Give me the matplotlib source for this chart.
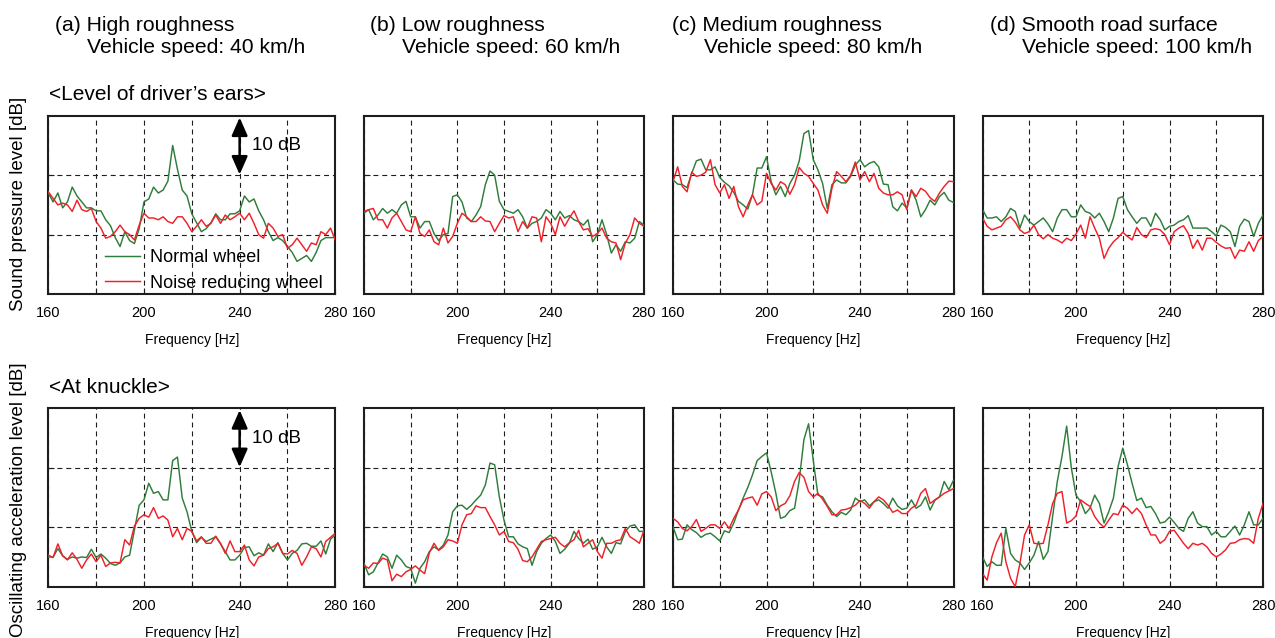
import matplotlib
matplotlib.use("Agg")
import matplotlib.pyplot as plt
from matplotlib.ticker import FixedLocator, NullFormatter
import numpy as np

plt.rcParams['font.family'] = ['Liberation Sans', 'DejaVu Sans']

# ---------------- data (dB, arbitrary reference; grid every 10 dB) ----------------
freq = np.arange(160, 281, 2)

# Sound pressure level at driver's ears
spl_a_normal = [17.0, 15.5, 17.0, 14.5, 15.5, 18.0, 16.5, 15.5, 14.5, 14.5,
                14.0, 14.0, 12.5, 11.5, 9.5, 8.0, 10.5, 9.0, 8.5, 11.0,
                15.5, 16.0, 18.0, 17.0, 17.5, 19.0, 25.0, 21.0, 17.5, 16.5,
                13.5, 12.0, 10.5, 11.0, 12.0, 13.5, 12.5, 12.5, 13.5, 13.5,
                14.0, 16.5, 15.5, 16.0, 14.0, 12.5, 10.5, 9.0, 9.5, 9.0,
                8.0, 7.0, 5.5, 6.0, 6.5, 5.5, 7.0, 9.0, 9.5, 9.5,
                9.5]
spl_a_reduced = [17.2, 16.1, 15.0, 15.3, 15.0, 13.9, 15.8, 14.2, 13.9, 14.4,
                 12.2, 11.1, 9.4, 9.7, 10.5, 11.6, 10.5, 10.0, 9.1, 11.6,
                 13.6, 12.8, 12.8, 12.5, 13.0, 12.2, 11.9, 13.0, 13.0, 11.9,
                 10.5, 11.4, 12.5, 11.4, 11.9, 13.3, 11.9, 13.3, 12.5, 13.0,
                 13.6, 12.5, 13.6, 11.9, 10.0, 9.4, 11.9, 11.1, 9.7, 10.0,
                 7.7, 8.3, 9.4, 8.3, 7.2, 8.6, 8.3, 10.5, 10.0, 11.1,
                 9.1]
spl_b_normal = [13.6, 14.2, 12.5, 13.3, 14.4, 13.6, 14.2, 13.6, 15.0, 15.6,
                13.0, 13.0, 11.1, 12.2, 12.2, 10.2, 9.0, 10.0, 10.2, 16.4,
                16.7, 15.5, 12.8, 12.2, 13.3, 14.7, 18.4, 20.7, 20.0, 15.6,
                14.2, 13.9, 13.6, 14.2, 13.0, 11.1, 11.9, 12.2, 12.8, 14.2,
                13.6, 12.5, 13.9, 12.8, 13.2, 12.5, 12.2, 11.6, 12.5, 8.8,
                10.0, 12.5, 10.0, 6.9, 8.3, 7.2, 8.8, 8.6, 9.4, 12.2,
                11.6]
spl_b_reduced = [13.9, 14.2, 14.4, 12.5, 12.5, 11.1, 12.8, 13.6, 12.2, 10.8,
                 10.5, 13.0, 10.2, 9.7, 10.8, 8.8, 8.3, 11.1, 8.6, 9.7,
                 11.9, 13.6, 13.0, 12.2, 12.2, 13.0, 12.3, 12.2, 10.5, 11.9,
                 13.2, 12.8, 13.0, 10.5, 12.2, 11.1, 13.0, 12.8, 8.8, 13.0,
                 11.9, 10.0, 13.0, 11.4, 12.8, 14.0, 12.2, 10.8, 11.0, 9.7,
                 10.2, 11.1, 9.4, 8.8, 8.6, 5.8, 8.6, 10.0, 12.8, 11.9,
                 11.4]
spl_c_normal = [19.2, 18.5, 18.4, 17.9, 20.3, 22.4, 22.7, 20.9, 20.9, 21.4,
                19.6, 18.8, 18.2, 17.1, 15.6, 15.0, 14.3, 16.7, 21.2, 21.2,
                23.1, 18.9, 16.7, 18.1, 16.4, 18.6, 20.0, 22.4, 27.0, 27.5,
                22.6, 20.9, 18.6, 14.4, 18.4, 19.2, 18.7, 18.7, 19.8, 21.7,
                22.6, 21.4, 22.0, 22.3, 21.4, 18.5, 18.4, 14.7, 14.0, 15.3,
                14.5, 17.5, 15.8, 13.0, 14.2, 15.8, 15.0, 16.4, 17.1, 15.8,
                15.4]
spl_c_reduced = [18.9, 21.4, 18.1, 17.2, 20.5, 19.8, 20.0, 20.5, 22.6, 18.4,
                 17.0, 18.4, 16.1, 18.1, 14.7, 13.0, 15.0, 16.7, 15.0, 15.6,
                 20.3, 18.6, 17.5, 18.9, 18.4, 16.8, 18.4, 21.3, 20.3, 19.8,
                 18.6, 17.5, 15.0, 13.6, 17.8, 20.6, 19.8, 18.9, 20.0, 22.2,
                 19.2, 20.6, 18.9, 20.3, 17.8, 17.0, 16.7, 16.7, 17.2, 16.7,
                 14.2, 17.5, 16.4, 17.8, 17.3, 16.2, 15.6, 17.0, 18.1, 19.0,
                 18.9]
spl_d_normal = [14.2, 12.8, 12.8, 13.0, 12.2, 13.0, 14.4, 13.9, 11.1, 13.3,
                12.2, 11.6, 12.2, 12.8, 11.8, 10.5, 12.8, 14.2, 14.2, 13.0,
                13.0, 15.0, 13.9, 13.6, 12.8, 13.6, 12.2, 10.5, 12.8, 16.1,
                16.4, 14.2, 13.0, 11.9, 12.8, 12.8, 11.4, 13.6, 12.5, 10.8,
                11.4, 11.6, 12.2, 12.5, 13.2, 11.1, 11.1, 11.1, 11.1, 10.5,
                9.8, 11.6, 11.2, 10.5, 8.0, 11.4, 12.6, 12.2, 9.7, 11.9,
                13.3]
spl_d_reduced = [12.8, 11.4, 10.8, 11.1, 11.4, 12.5, 13.0, 12.1, 10.8, 10.2,
                 10.5, 11.6, 10.0, 9.3, 10.0, 9.4, 9.1, 8.6, 9.4, 9.0,
                 10.1, 11.6, 9.4, 13.0, 11.1, 9.4, 6.0, 7.7, 8.8, 9.5,
                 10.4, 9.7, 9.1, 11.2, 10.0, 9.5, 10.8, 11.0, 10.8, 10.0,
                 8.3, 10.5, 11.1, 11.5, 10.2, 7.7, 9.1, 7.4, 9.4, 9.4,
                 8.7, 8.1, 7.7, 7.8, 6.0, 7.4, 7.2, 8.8, 7.2, 9.0,
                 9.7]

# Oscillating acceleration level at knuckle
acc_a_normal = [5.0, 5.0, 6.4, 5.2, 4.6, 5.0, 4.8, 5.0, 4.9, 6.3,
                4.9, 5.5, 4.8, 3.9, 3.6, 4.0, 5.0, 5.3, 9.5, 13.7,
                14.6, 17.4, 15.7, 16.0, 14.6, 14.6, 21.2, 21.8, 14.9, 12.6,
                9.3, 7.4, 8.3, 7.6, 8.0, 8.4, 7.2, 5.9, 4.5, 4.5,
                5.3, 6.6, 6.7, 5.2, 5.7, 5.3, 7.2, 5.9, 7.4, 5.6,
                4.5, 5.6, 6.1, 7.2, 7.3, 6.8, 6.8, 7.7, 5.5, 8.0,
                8.7]
acc_a_reduced = [5.3, 4.9, 7.2, 5.2, 4.5, 5.7, 4.6, 3.1, 4.5, 5.5,
                 4.2, 5.3, 3.4, 4.0, 4.1, 4.0, 7.9, 7.0, 10.2, 11.5,
                 12.1, 11.7, 13.3, 11.5, 11.9, 11.2, 8.4, 9.8, 7.9, 9.8,
                 9.3, 7.7, 8.4, 7.3, 7.3, 8.5, 7.3, 5.6, 7.7, 5.9,
                 5.9, 7.0, 4.5, 3.5, 5.0, 5.3, 6.4, 6.7, 7.3, 5.6,
                 5.5, 6.1, 5.6, 3.6, 5.0, 6.7, 6.4, 5.0, 7.6, 8.3,
                 9.0]
acc_b_normal = [3.9, 2.0, 2.5, 4.0, 5.5, 5.0, 3.1, 5.3, 4.5, 3.4,
                3.1, 0.6, 3.1, 4.2, 5.9, 6.7, 6.2, 7.0, 8.7, 12.6,
                13.6, 13.7, 13.0, 13.7, 14.6, 15.4, 17.1, 20.8, 20.5, 15.1,
                11.2, 8.4, 8.4, 7.2, 6.7, 6.4, 3.6, 5.9, 7.3, 8.1,
                8.7, 7.6, 5.6, 6.3, 7.3, 9.3, 8.1, 7.3, 8.0, 6.3,
                6.7, 8.3, 6.7, 5.6, 7.4, 7.2, 9.3, 10.2, 10.4, 9.3,
                9.3]
acc_b_reduced = [3.6, 3.1, 4.0, 3.9, 4.8, 4.5, 1.0, 2.1, 1.7, 2.5,
                 2.9, 3.5, 2.8, 2.2, 5.7, 7.3, 6.1, 6.7, 7.9, 7.7,
                 7.3, 10.4, 12.1, 12.3, 13.6, 13.3, 13.3, 11.8, 10.4, 8.7,
                 9.3, 7.6, 7.4, 6.3, 4.4, 4.2, 5.0, 6.3, 7.6, 7.9,
                 8.1, 8.3, 7.3, 6.7, 7.4, 7.9, 9.5, 6.7, 7.3, 7.9,
                 5.9, 4.8, 7.3, 7.3, 7.7, 7.9, 9.8, 8.4, 7.9, 7.3,
                 9.5]
acc_c_normal = [10.1, 7.9, 8.0, 10.4, 9.6, 9.1, 8.3, 8.8, 9.0, 8.4,
                7.7, 9.4, 9.1, 10.7, 12.9, 14.9, 16.7, 18.8, 21.2, 21.9,
                22.5, 19.3, 15.7, 11.5, 11.8, 12.8, 13.2, 17.9, 24.7, 27.4,
                21.3, 15.4, 15.1, 13.7, 12.6, 11.8, 12.5, 12.1, 12.9, 14.9,
                14.3, 14.6, 13.6, 14.3, 14.6, 14.0, 13.2, 14.9, 13.6, 13.0,
                13.2, 14.6, 13.2, 13.7, 15.1, 12.9, 14.5, 15.1, 17.7, 16.3,
                17.9]
acc_c_reduced = [11.5, 10.9, 9.8, 9.4, 10.1, 11.3, 9.3, 9.8, 10.4, 10.4,
                 9.8, 10.9, 9.8, 11.5, 12.9, 14.6, 14.9, 15.1, 13.7, 15.6,
                 16.0, 15.1, 12.8, 13.6, 14.0, 15.3, 17.7, 19.2, 18.4, 16.0,
                 15.1, 15.7, 14.7, 13.5, 12.1, 12.1, 12.9, 13.0, 13.3, 13.7,
                 14.5, 14.0, 13.2, 14.3, 15.1, 14.6, 13.7, 12.5, 12.9, 12.3,
                 12.3, 13.2, 13.7, 15.7, 16.5, 14.0, 14.6, 15.1, 15.7, 16.1,
                 16.5]
acc_d_normal = [5.0, 3.4, 4.2, 3.6, 3.6, 9.8, 5.6, 4.5, 4.0, 2.9,
                4.0, 5.3, 7.6, 4.6, 5.9, 11.8, 17.7, 21.9, 27.0, 20.0,
                15.4, 14.3, 12.3, 13.2, 15.4, 14.0, 10.7, 12.6, 14.9, 20.2,
                23.3, 20.5, 17.4, 14.5, 14.9, 13.3, 13.5, 12.3, 10.7, 10.9,
                11.7, 10.8, 9.8, 9.3, 11.5, 12.6, 10.7, 10.1, 10.1, 8.7,
                9.3, 8.4, 8.4, 9.3, 10.2, 8.7, 10.4, 12.6, 10.4, 10.4,
                11.5]
acc_d_reduced = [2.2, 1.1, 5.0, 7.4, 9.0, 4.2, 1.4, 0.0, 3.9, 8.7,
                 10.4, 7.3, 7.2, 7.3, 10.4, 14.0, 15.7, 16.0, 10.7, 11.1,
                 11.9, 14.6, 14.0, 13.5, 11.8, 10.7, 10.0, 11.2, 12.3, 12.1,
                 13.7, 13.2, 12.3, 13.2, 12.3, 10.4, 8.7, 8.7, 7.3, 7.9,
                 9.3, 9.5, 8.4, 7.3, 6.4, 7.3, 7.0, 7.3, 6.7, 5.6,
                 5.0, 5.5, 6.2, 7.3, 7.4, 7.9, 8.1, 8.0, 7.3, 11.5,
                 14.0]

titles = ["(a) High roughness", "(b) Low roughness",
          "(c) Medium roughness", "(d) Smooth road surface"]
speeds = ["Vehicle speed: 40 km/h", "Vehicle speed: 60 km/h",
          "Vehicle speed: 80 km/h", "Vehicle speed: 100 km/h"]
row_labels = ["<Level of driver\u2019s ears>", "<At knuckle>"]
ylabels = ["Sound pressure level [dB]", "Oscillating acceleration level [dB]"]
series_labels = ["Normal wheel", "Noise reducing wheel"]
xlabel = "Frequency [Hz]"
major_ticks = [160, 200, 240, 280]
minor_ticks = [180, 220, 260]
ygrid = [10, 20]

top_normal = [spl_a_normal, spl_b_normal, spl_c_normal, spl_d_normal]
top_reduced = [spl_a_reduced, spl_b_reduced, spl_c_reduced, spl_d_reduced]
bot_normal = [acc_a_normal, acc_b_normal, acc_c_normal, acc_d_normal]
bot_reduced = [acc_a_reduced, acc_b_reduced, acc_c_reduced, acc_d_reduced]

# ---------------- layout (pixels) ----------------
W, H = 1275, 638
fig = plt.figure(figsize=(W / 100, H / 100), dpi=100)

col_left = [48.3, 364.0, 673.0, 982.5]
col_width = [287.0, 280.0, 280.5, 280.5]
row_top = [115.7, 408.3]
row_h = 178.4

GREEN = '#2f7d3b'
RED = '#f0202a'
DARK = '#1e1e1e'


def make_axes(left, top, width, height):
    return fig.add_axes([left / W, 1 - (top + height) / H, width / W, height / H])


axes = {}
for r in range(2):
    for c in range(4):
        ax = make_axes(col_left[c], row_top[r], col_width[c], row_h)
        axes[(r, c)] = ax
        normal = (top_normal if r == 0 else bot_normal)[c]
        reduced = (top_reduced if r == 0 else bot_reduced)[c]
        ax.plot(freq, normal, color=GREEN, lw=1.05, label=series_labels[0], zorder=3)
        ax.plot(freq, reduced, color=RED, lw=1.05, label=series_labels[1], zorder=4)
        ax.set_xlim(160, 280)
        ax.set_ylim(0, 30)
        ax.xaxis.set_major_locator(FixedLocator(major_ticks))
        ax.xaxis.set_minor_locator(FixedLocator(minor_ticks))
        ax.set_xticklabels([str(t) for t in major_ticks])
        ax.yaxis.set_major_locator(FixedLocator(ygrid))
        ax.yaxis.set_major_formatter(NullFormatter())
        ax.tick_params(axis='x', which='both', direction='in', length=4,
                       width=0.8, color=DARK, labelsize=10.5, pad=8.5)
        ax.tick_params(axis='y', which='both', direction='in', length=4,
                       width=0.8, color=DARK)
        ax.grid(True, which='both', color=DARK, linestyle=(0, (4.5, 3.5)),
                linewidth=0.8, zorder=1)
        ax.set_axisbelow(True)
        for s in ax.spines.values():
            s.set_linewidth(1.5)
            s.set_color(DARK)
        ax.set_xlabel(xlabel, fontsize=10, va='baseline')
        ax.xaxis.set_label_coords(0.5, -50 / row_h)

# 10 dB scale arrows
for r in range(2):
    ax = axes[(r, 0)]
    ax.annotate('', xy=(240, 29.7), xytext=(240, 20.1),
                arrowprops=dict(arrowstyle='<|-|>,head_length=0.5,head_width=0.22',
                                color='black', lw=1.8, mutation_scale=22,
                                shrinkA=0, shrinkB=0), zorder=6)
    ax.text(245.0, 25.0, "10 dB", fontsize=13.5, va='center', ha='left', zorder=6)

# legend
axes[(0, 0)].legend(loc='upper left', bbox_to_anchor=(0.198, 0.25),
                    frameon=False, fontsize=13, handlelength=1.95,
                    handletextpad=0.55, labelspacing=0.45, borderpad=0,
                    borderaxespad=0)

# titles
for c in range(4):
    x0 = col_left[c] + [6.7, 6.0, -1.0, 7.5][c]
    fig.text(x0 / W, 1 - 30.7 / H, titles[c], fontsize=15.2, va='baseline', ha='left')
    fig.text((x0 + 32) / W, 1 - 53.3 / H, speeds[c], fontsize=15.2, va='baseline', ha='left')

# row labels
fig.text(49 / W, 1 - 100 / H, row_labels[0], fontsize=15, va='baseline', ha='left')
fig.text(49 / W, 1 - 393 / H, row_labels[1], fontsize=15, va='baseline', ha='left')

# y labels
fig.text(19 / W, 1 - 204 / H, ylabels[0], rotation=90, fontsize=13.5,
         va='center', ha='center')
fig.text(19 / W, 1 - 500 / H, ylabels[1], rotation=90, fontsize=13.5,
         va='center', ha='center')

fig.savefig("out.png", dpi=100)
